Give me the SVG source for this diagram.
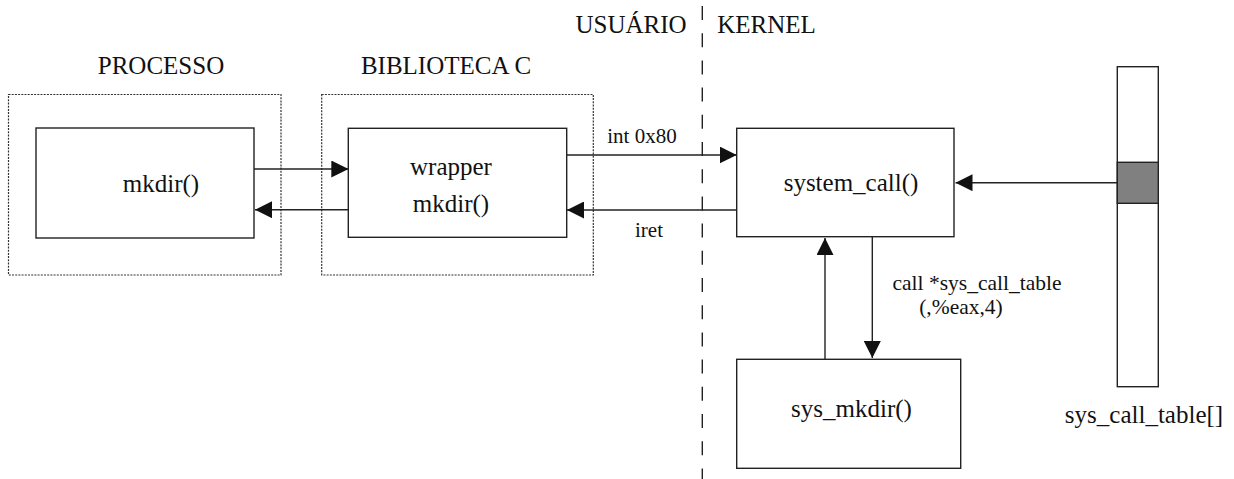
<svg xmlns="http://www.w3.org/2000/svg" width="1234" height="479" viewBox="0 0 1234 479">
  <style>
    text { font-family: "Liberation Serif", "Times New Roman", serif; fill: #111; }
    .lbl { font-size: 25px; text-anchor: middle; }
    .edge { font-size: 21px; text-anchor: middle; }
    .note { font-size: 21.5px; text-anchor: middle; }
    .box { fill: #fff; stroke: #222; stroke-width: 1.4; }
    .group { fill: none; stroke: #333; stroke-width: 1.2; stroke-dasharray: 2 1.2; }
    .conn { fill: none; stroke: #222; stroke-width: 1.4; }
    .split { fill: none; stroke: #222; stroke-width: 1.4; stroke-dasharray: 14 13.2; }
  </style>
  <defs>
    <marker id="arrow" viewBox="0 0 17 17" refX="17" refY="8.5" markerWidth="17" markerHeight="17" markerUnits="userSpaceOnUse" orient="auto">
      <path d="M0,0 L17,8.5 L0,17 Z" fill="#111"/>
    </marker>
  </defs>

  <!-- user / kernel boundary -->
  <g id="boundary">
    <line class="split" x1="702.3" y1="6" x2="702.3" y2="479"/>
    <text class="lbl" x="631" y="33">USUÁRIO</text>
    <text class="lbl" x="766.5" y="33">KERNEL</text>
  </g>

  <!-- process group -->
  <g id="processo">
    <rect class="group" x="8.5" y="94.5" width="272.5" height="180.5"/>
    <text class="lbl" x="161" y="74">PROCESSO</text>
  </g>
  <g id="mkdir">
    <rect class="box" x="36" y="128" width="218" height="110"/>
    <text class="lbl" x="161" y="191.5">mkdir()</text>
  </g>

  <!-- C library group -->
  <g id="biblioteca">
    <rect class="group" x="321.7" y="94.5" width="271.6" height="180.5"/>
    <text class="lbl" x="446" y="74">BIBLIOTECA C</text>
  </g>
  <g id="wrapper">
    <rect class="box" x="348.3" y="128.3" width="218.4" height="109"/>
    <text class="lbl" x="451" y="175">wrapper</text>
    <text class="lbl" x="451" y="211.5">mkdir()</text>
  </g>

  <!-- kernel side -->
  <g id="system_call">
    <rect class="box" x="736.7" y="128.3" width="217.3" height="108.4"/>
    <text class="lbl" x="851" y="190.7">system_call()</text>
  </g>
  <g id="sys_mkdir">
    <rect class="box" x="736.7" y="359.3" width="224" height="109"/>
    <text class="lbl" x="851.5" y="416.7">sys_mkdir()</text>
  </g>
  <g id="sys_call_table">
    <rect class="box" x="1117.3" y="66.7" width="41" height="320"/>
    <rect x="1117.3" y="162.3" width="41" height="41" fill="#808080" stroke="#222" stroke-width="1.4"/>
    <text class="lbl" x="1144" y="423">sys_call_table[]</text>
  </g>

  <!-- connectors -->
  <g id="connectors">
    <line class="conn" x1="254" y1="169" x2="348.3" y2="169" marker-end="url(#arrow)"/>
    <line class="conn" x1="348.3" y1="209.7" x2="255" y2="209.7" marker-end="url(#arrow)"/>
    <line class="conn" x1="566.7" y1="155" x2="736.7" y2="155" marker-end="url(#arrow)"/>
    <line class="conn" x1="736.7" y1="210" x2="567" y2="210" marker-end="url(#arrow)"/>
    <line class="conn" x1="1117.3" y1="182.7" x2="955.5" y2="182.7" marker-end="url(#arrow)"/>
    <line class="conn" x1="872.3" y1="236.7" x2="872.3" y2="358" marker-end="url(#arrow)"/>
    <line class="conn" x1="825" y1="359.3" x2="825" y2="238" marker-end="url(#arrow)"/>
    <text class="edge" x="642" y="142.7">int 0x80</text>
    <text class="edge" x="649" y="237">iret</text>
    <text class="note" x="977" y="290">call *sys_call_table</text>
    <text class="note" x="961" y="314">(,%eax,4)</text>
  </g>
</svg>
